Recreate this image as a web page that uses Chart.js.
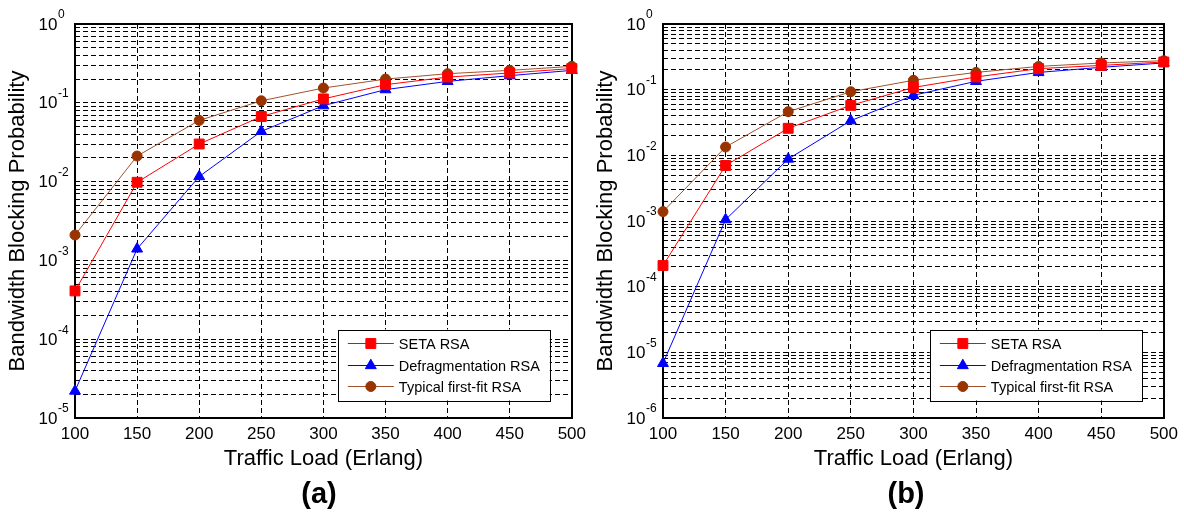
<!DOCTYPE html>
<html>
<head>
<meta charset="utf-8">
<script src="https://cdn.jsdelivr.net/npm/chart.js@4.4.1/dist/chart.umd.min.js"></script>
<style>
html, body { margin: 0; padding: 0; background: #fff; }
#wrap { position: relative; width: 1184px; height: 519px; overflow: hidden; }
.panel { position: absolute; top: 0; width: 592px; height: 519px; }
.cap { position: absolute; top: 477px; width: 100px; text-align: center; line-height: 30px;
       font: bold 29px "Liberation Sans", Arial, sans-serif; color: #000; }
</style>
</head>
<body>
<div id="wrap">
  <div class="panel" style="left:0"><canvas id="chartA" width="592" height="519"></canvas></div>
  <div class="panel" style="left:592px"><canvas id="chartB" width="592" height="519"></canvas></div>
  <div class="cap" style="left:269px">(a)</div>
  <div class="cap" style="left:856px">(b)</div>
</div>
<script>
// x values (Erlang)
var loads = [100, 150, 200, 250, 300, 350, 400, 450, 500];

// panel (a)
var setaA     = [4.1e-4, 9.8e-3, 0.030, 0.067, 0.112, 0.170, 0.212, 0.239, 0.272];
var defragA   = [2.2e-5, 1.4e-3, 0.0116, 0.0434, 0.092, 0.147, 0.187, 0.221, 0.258];
var firstFitA = [2.1e-3, 0.0211, 0.0598, 0.106, 0.154, 0.200, 0.234, 0.258, 0.290];

// panel (b)
var setaB     = [2.1e-4, 7.0e-3, 0.0258, 0.0577, 0.108, 0.156, 0.209, 0.234, 0.264];
var defragB   = [6.8e-6, 1.05e-3, 8.8e-3, 0.0337, 0.082, 0.134, 0.183, 0.219, 0.255];
var firstFitB = [1.39e-3, 0.0134, 0.0462, 0.093, 0.139, 0.183, 0.226, 0.255, 0.276];

// decade exponents shown as y tick labels
var expsA = [0, -1, -2, -3, -4, -5];
var expsB = [0, -1, -2, -3, -4, -5, -6];

var seriesNames = ['SETA RSA', 'Defragmentation RSA', 'Typical first-fit RSA'];

var FONT = '"Liberation Sans", Arial, sans-serif';

// log grid values 1..9 x 10^e between the decades
function gridValues(exps) {
    var vals = [];
    var lo = Math.min.apply(null, exps), hi = Math.max.apply(null, exps);
    for (var e = lo; e < hi; e++) {
        for (var m = 1; m < 10; m++) vals.push({ value: m * Math.pow(10, e) });
    }
    vals.push({ value: Math.pow(10, hi) });
    return vals;
}

// Draw 10^n labels with raised exponent
var yLabelPlugin = {
    id: 'yLabels',
    afterDraw: function(chart, args, opts) {
        var ctx = chart.ctx, area = chart.chartArea, ys = chart.scales.y;
        ctx.save();
        ctx.fillStyle = '#000';
        ctx.textBaseline = 'middle';
        opts.exps.forEach(function(e) {
            var py = ys.getPixelForValue(Math.pow(10, e));
            var x = area.left - 17.5;
            ctx.font = '17px ' + FONT;
            ctx.textAlign = 'right';
            ctx.fillText('10', x, py + 1);
            ctx.font = '12px ' + FONT;
            ctx.textAlign = 'left';
            ctx.fillText(String(e), x + 0.5, py - 9);
        });
        ctx.restore();
    }
};

// MATLAB style box round the plot area
var boxPlugin = {
    id: 'plotBox',
    beforeDatasetsDraw: function(chart) {
        var ctx = chart.ctx, a = chart.chartArea;
        ctx.save();
        ctx.strokeStyle = '#000';
        ctx.lineWidth = 2;
        ctx.setLineDash([]);
        ctx.strokeRect(Math.round(a.left), Math.round(a.top), Math.round(a.right) - Math.round(a.left), Math.round(a.bottom) - Math.round(a.top));
        ctx.restore();
    }
};

// legend box inside the lower right of the plot
var legendPlugin = {
    id: 'boxLegend',
    afterDraw: function(chart) {
        var ctx = chart.ctx, a = chart.chartArea;
        var w = 212, h = 71;
        var left = a.right - 22 - w, top = a.bottom - 17.5 - h;
        ctx.save();
        ctx.fillStyle = '#fff';
        ctx.fillRect(left, top, w, h);
        ctx.strokeStyle = '#000';
        ctx.lineWidth = 1;
        ctx.strokeRect(Math.round(left) + 0.5, Math.round(top) + 0.5, w, h);
        var rows = [14, 36, 57];
        chart.data.datasets.forEach(function(ds, i) {
            var y = top + rows[i];
            ctx.strokeStyle = ds.borderColor;
            ctx.lineWidth = 1;
            ctx.beginPath();
            ctx.moveTo(left + 10, y);
            ctx.lineTo(left + 56, y);
            ctx.stroke();
            ctx.fillStyle = ds.pointBackgroundColor;
            ctx.strokeStyle = ds.pointBorderColor;
            Chart.helpers.drawPoint(ctx, { pointStyle: ds.pointStyle, radius: ds.pointRadius, rotation: 0, borderWidth: 1 }, left + 33, y);
            ctx.fillStyle = '#000';
            ctx.font = '14.5px ' + FONT;
            ctx.textAlign = 'left';
            ctx.textBaseline = 'middle';
            ctx.fillText(ds.label, left + 61, y + 1);
        });
        ctx.restore();
    }
};

function makeSeries(values, idx) {
    var styles = [
        { line: '#ff0000', fill: '#ff0000', shape: 'rect', r: 7 },
        { line: '#0000ff', fill: '#0000ff', shape: 'triangle', r: 6.3 },
        { line: '#a0522d', fill: '#993300', shape: 'circle', r: 5 }
    ];
    var s = styles[idx];
    return {
        label: seriesNames[idx],
        data: values,
        borderColor: s.line,
        borderWidth: 1,
        pointStyle: s.shape,
        pointRadius: s.r,
        pointBackgroundColor: s.fill,
        pointBorderColor: s.fill,
        pointBorderWidth: 1,
        tension: 0,
        clip: false
    };
}

function makeChart(id, seta, defrag, firstFit, exps, padLeft, padRight) {
    var ctx = document.getElementById(id).getContext('2d');
    return new Chart(ctx, {
        type: 'line',
        data: {
            labels: loads,
            datasets: [makeSeries(seta, 0), makeSeries(defrag, 1), makeSeries(firstFit, 2)]
        },
        options: {
            responsive: false,
            animation: false,
            events: [],
            layout: { padding: { left: padLeft, right: padRight, top: 24, bottom: 47 } },
            plugins: {
                legend: { display: false },
                tooltip: { enabled: false },
                yLabels: { exps: exps }
            },
            scales: {
                x: {
                    type: 'linear',
                    min: 100,
                    max: 500,
                    afterFit: function(s) { s.height = 54; },
                    ticks: {
                        stepSize: 50,
                        autoSkip: false,
                        maxRotation: 0,
                        padding: 6,
                        color: '#000',
                        font: { family: FONT, size: 17 }
                    },
                    grid: { color: '#000', lineWidth: 1, drawTicks: false },
                    border: { display: false, dash: [5, 3] },
                    title: {
                        display: true,
                        text: 'Traffic Load (Erlang)',
                        color: '#000',
                        padding: 0,
                        font: { family: FONT, size: 22 }
                    }
                },
                y: {
                    type: 'logarithmic',
                    min: Math.pow(10, Math.min.apply(null, exps)),
                    max: 1,
                    afterFit: function(s) { s.width = 70; },
                    afterBuildTicks: function(s) { s.ticks = gridValues(exps); },
                    ticks: { display: false, autoSkip: false },
                    grid: { color: '#000', lineWidth: 1, drawTicks: false },
                    border: { display: false, dash: [5, 3] },
                    title: {
                        display: true,
                        text: 'Bandwidth Blocking Probability',
                        color: '#000',
                        padding: 0,
                        font: { family: FONT, size: 22 }
                    }
                }
            }
        },
        plugins: [boxPlugin, yLabelPlugin, legendPlugin]
    });
}

makeChart('chartA', setaA, defragA, firstFitA, expsA, 5, 15);
makeChart('chartB', setaB, defragB, firstFitB, expsB, 1, 18);
</script>
</body>
</html>
